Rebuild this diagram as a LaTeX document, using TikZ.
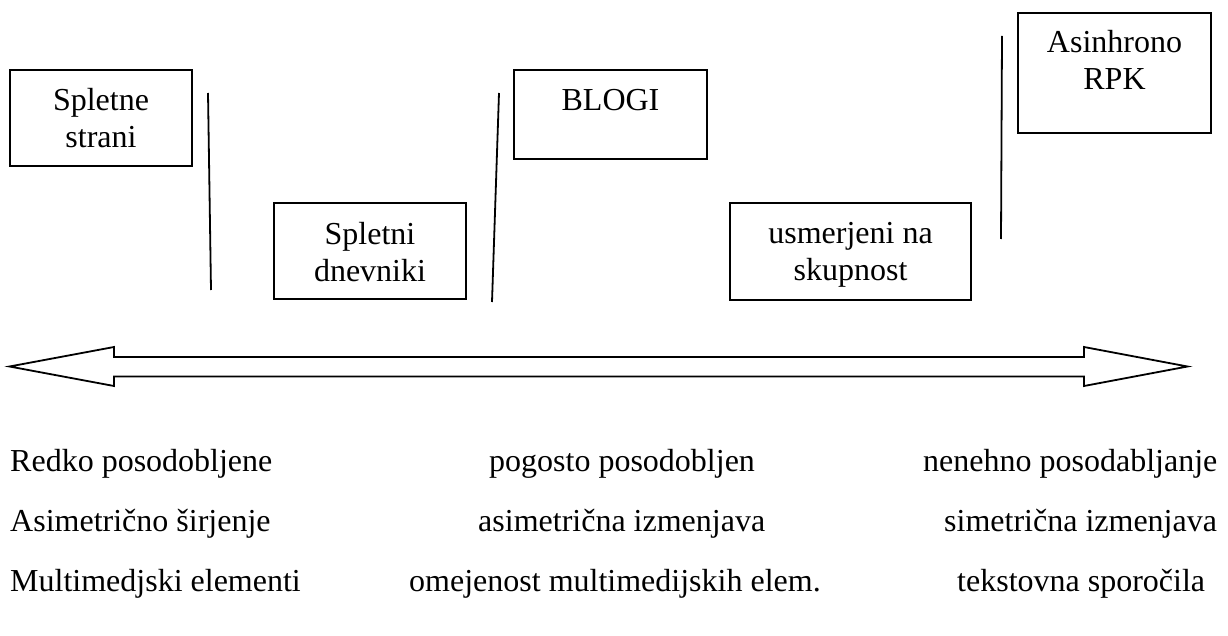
\documentclass[tikz,border=0pt]{standalone}
\usepackage{fontspec}
\setmainfont{Liberation Serif}
\begin{document}
\begin{tikzpicture}[x=1pt,y=-1pt,
  box/.style={draw,line width=1.8pt,rectangle,inner sep=0pt},
  txt/.style={anchor=base,inner sep=0pt,font=\fontsize{32}{37}\selectfont},
  row/.style={anchor=base west,inner sep=0pt,font=\fontsize{32}{37}\selectfont},
  sep/.style={line width=1.8pt}]
\useasboundingbox[fill=white] (0,0) rectangle (1228,636);

% boxes
\node[box,minimum width=182pt,minimum height=96pt] (b1) at (101,118) {};
\node[txt] (b1a) at (101,110.5) {Spletne};
\node[txt] (b1b) at (101,147.5) {strani};

\node[box,minimum width=192pt,minimum height=96pt] (b2) at (370,251) {};
\node[txt] (b2a) at (370,244) {Spletni};
\node[txt] (b2b) at (370,281) {dnevniki};

\node[box,minimum width=193pt,minimum height=89pt] (b3) at (610.5,114.5) {};
\node[txt] (b3a) at (610.5,111) {BLOGI};

\node[box,minimum width=241pt,minimum height=97pt] (b4) at (850.5,251.5) {};
\node[txt] (b4a) at (850.5,243.5) {usmerjeni na};
\node[txt] (b4b) at (850.5,280.5) {skupnost};

\node[box,minimum width=193pt,minimum height=120pt] (b5) at (1114.5,73) {};
\node[txt] (b5a) at (1114.5,53) {Asinhrono};
\node[txt] (b5b) at (1114.5,90) {RPK};

% separator lines
\coordinate (l1a) at (208,93);  \coordinate (l1b) at (211,290);
\coordinate (l2a) at (499,93);  \coordinate (l2b) at (492,302);
\coordinate (l3a) at (1002,36); \coordinate (l3b) at (1001,239);
\draw[sep] (l1a) -- (l1b);
\draw[sep] (l2a) -- (l2b);
\draw[sep] (l3a) -- (l3b);

% double arrow
\draw[line width=1.8pt,line join=miter]
  (9.5,366.5) -- (114,347) -- (114,357) -- (1084,357) -- (1084,347)
  -- (1187.5,366.5) -- (1084,386) -- (1084,376.5) -- (114,376.5)
  -- (114,386) -- cycle;

% rows of text
\node[row] (r1c1) at (10,471) {Redko posodobljene};
\node[row] (r1c2) at (489,471) {pogosto posodobljen};
\node[row] (r1c3) at (923,471) {nenehno posodabljanje};

\node[row] (r2c1) at (10,531) {Asimetrično širjenje};
\node[row] (r2c2) at (478,531) {asimetrična izmenjava};
\node[row] (r2c3) at (944,531) {simetrična izmenjava};

\node[row] (r3c1) at (10,591) {Multimedjski elementi};
\node[row] (r3c2) at (409,591) {omejenost multimedijskih elem.};
\node[row] (r3c3) at (957,591) {tekstovna sporočila};
\end{tikzpicture}
\end{document}
